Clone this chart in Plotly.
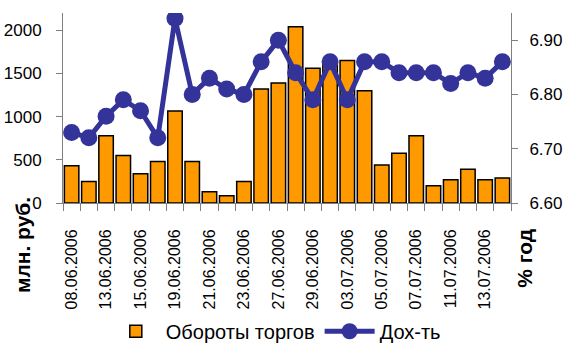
import plotly.graph_objects as go

dates = ["08.06.2006", "09.06.2006", "13.06.2006", "14.06.2006", "15.06.2006",
         "16.06.2006", "19.06.2006", "20.06.2006", "21.06.2006", "22.06.2006",
         "23.06.2006", "26.06.2006", "27.06.2006", "28.06.2006", "29.06.2006",
         "30.06.2006", "03.07.2006", "04.07.2006", "05.07.2006", "06.07.2006",
         "07.07.2006", "10.07.2006", "11.07.2006", "12.07.2006", "13.07.2006",
         "14.07.2006"]
turnover = [430, 250, 780, 550, 340, 480, 1065, 480, 130, 85, 250, 1320, 1390,
            2040, 1560, 1620, 1650, 1300, 440, 575, 780, 200, 270, 390, 270, 290]
yields = [6.73, 6.72, 6.76, 6.79, 6.77, 6.72, 6.94, 6.80, 6.83, 6.81, 6.80, 6.86,
          6.90, 6.84, 6.79, 6.86, 6.79, 6.86, 6.86, 6.84, 6.84, 6.84, 6.82, 6.84,
          6.83, 6.86]
tick_text = [d if i % 2 == 0 else "" for i, d in enumerate(dates)]
left_ticks = [0, 500, 1000, 1500, 2000]
right_ticks = [6.60, 6.70, 6.80, 6.90]

FONT = "Arial, 'Liberation Sans', sans-serif"
GRAY = "#808080"

fig = go.Figure()
fig.add_trace(go.Bar(
    x=dates, y=turnover, name="Обороты торгов",
    marker=dict(color="#FF9900", line=dict(color="#000000", width=1.5)),
    yaxis="y"))
fig.add_trace(go.Scatter(
    x=dates, y=yields, name="Дох-ть", mode="lines+markers",
    line=dict(color="#333399", width=5),
    marker=dict(color="#333399", size=17),
    yaxis="y2"))

fig.update_layout(
    width=566, height=343,
    margin=dict(l=63, r=55, t=13, b=140, autoexpand=False),
    paper_bgcolor="white", plot_bgcolor="white",
    font=dict(family=FONT, size=17, color="black"),
    bargap=0.16,
    showlegend=True,
    legend=dict(orientation="h", x=0.475, xanchor="center", y=-0.675, yanchor="middle",
                font=dict(size=20, family=FONT), itemwidth=50, tracegroupgap=0,
                bgcolor="rgba(0,0,0,0)"),
    xaxis=dict(type="category", tickmode="array", tickvals=dates, ticktext=tick_text,
               range=[-0.5, len(dates) - 0.5], autorange=False,
               tickangle=-90, tickson="boundaries", ticks="outside", ticklen=7,
               tickcolor=GRAY, showline=True, linecolor=GRAY, linewidth=1,
               showgrid=False, ticklabelstandoff=19, tickfont=dict(size=16),
               automargin=False),
    yaxis=dict(range=[0, 2200], tickvals=left_ticks, ticks="outside", ticklen=6,
               tickcolor=GRAY, showline=True, linecolor=GRAY, linewidth=1,
               showgrid=False, zeroline=False, ticklabelstandoff=11,
               tickfont=dict(size=17), automargin=False),
    yaxis2=dict(range=[6.6, 6.95], tickvals=right_ticks, tickformat=".2f",
                overlaying="y", side="right", ticks="outside", ticklen=6,
                tickcolor=GRAY, showline=True, linecolor=GRAY, linewidth=1,
                showgrid=False, zeroline=False, ticklabelstandoff=8,
                tickfont=dict(size=17), automargin=False),
    annotations=[
        dict(text="<b>млн. руб.</b>", xref="paper", yref="paper", x=-0.089, y=-0.221,
             xanchor="center", yanchor="middle", textangle=-90, showarrow=False,
             font=dict(size=21, family=FONT)),
        dict(text="<b>% год</b>", xref="paper", yref="paper", x=1.031, y=-0.289,
             xanchor="center", yanchor="middle", textangle=-90, showarrow=False,
             font=dict(size=21, family=FONT)),
    ],
)

fig.write_html("out.html", config={"displayModeBar": False},
               post_script="document.body.style.margin='0';")
